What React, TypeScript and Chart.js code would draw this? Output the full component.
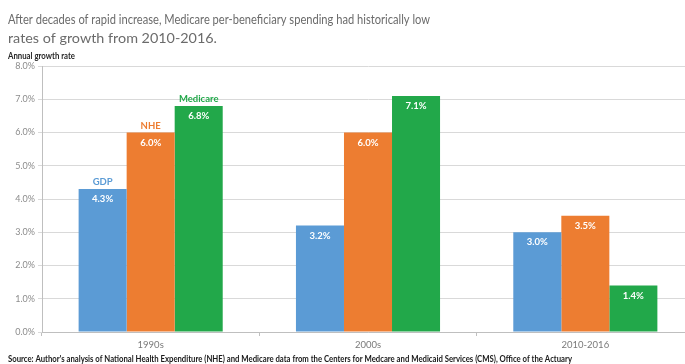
import React, { useEffect, useRef } from "react";
import { Chart, registerables } from "chart.js";

Chart.register(...registerables);

const categories = ["1990s", "2000s", "2010-2016"];
const seriesNames = ["GDP", "NHE", "Medicare"];
const gdp = [4.3, 3.2, 3.0];
const nhe = [6.0, 6.0, 3.5];
const medicare = [6.8, 7.1, 1.4];
const seriesColors = ["#5B9BD5", "#ED7D31", "#22A84A"];
const yMin = 0;
const yMax = 8;
const yStep = 1;

const titleLines = [
  "After decades of rapid increase, Medicare per-beneficiary spending had historically low",
  "rates of growth from 2010-2016.",
];
const axisTitle = "Annual growth rate";
const sourceText =
  "Source: Author's analysis of National Health Expenditure (NHE) and Medicare data from the Centers for Medcare and Medicaid Services (CMS), Office of the Actuary";

function fillFit(ctx: CanvasRenderingContext2D, text: string, x: number, y: number, w: number) {
  const m = ctx.measureText(text).width;
  ctx.save();
  ctx.translate(x, y);
  ctx.scale(w / m, 1);
  ctx.fillText(text, 0, 0);
  ctx.restore();
}

const textPlugin = {
  id: "texts",
  afterDraw(chart: any) {
    const ctx = chart.ctx as CanvasRenderingContext2D;
    ctx.save();
    ctx.textBaseline = "middle";
    ctx.textAlign = "left";
    ctx.fillStyle = "#6b6b6b";
    ctx.font = "14px Lato";
    fillFit(ctx, titleLines[0], 8, 19, 422);
    fillFit(ctx, titleLines[1], 8, 38, 209);
    ctx.fillStyle = "#262626";
    ctx.font = "bold 9px Lato";
    fillFit(ctx, axisTitle, 8, 56, 67);
    ctx.fillStyle = "#1a1a1a";
    ctx.font = "bold 8.5px Lato";
    fillFit(ctx, sourceText, 8, 359, 564);
    ctx.restore();
  },
};

const labelPlugin = {
  id: "barLabels",
  afterDatasetsDraw(chart: any) {
    const ctx = chart.ctx as CanvasRenderingContext2D;
    ctx.save();
    ctx.textAlign = "center";
    ctx.textBaseline = "middle";
    chart.data.datasets.forEach((ds: any, di: number) => {
      const meta = chart.getDatasetMeta(di);
      meta.data.forEach((bar: any, i: number) => {
        const v = ds.data[i];
        ctx.font = "bold 9.5px Lato";
        ctx.fillStyle = "#ffffff";
        ctx.fillText(v.toFixed(1) + "%", bar.x, bar.y + 10);
        if (i === 0) {
          ctx.fillStyle = seriesColors[di];
          ctx.fillText(ds.label, bar.x, bar.y - 7);
        }
      });
    });
    ctx.restore();
  },
};

export default function App() {
  const ref = useRef<HTMLCanvasElement>(null);
  useEffect(() => {
    if (!ref.current) return;
    const chart = new Chart(ref.current, {
      type: "bar",
      data: {
        labels: categories,
        datasets: [gdp, nhe, medicare].map((d, i) => ({
          label: seriesNames[i],
          data: d,
          backgroundColor: seriesColors[i],
          borderWidth: 0,
          categoryPercentage: 0.663,
          barPercentage: 1,
        })),
      },
      options: {
        animation: false,
        responsive: false,
        devicePixelRatio: 1,
        layout: { padding: { top: 66, left: 0, right: 6, bottom: 0 } },
        plugins: {
          legend: { display: false },
          tooltip: { enabled: false },
          title: { display: false },
        },
        scales: {
          x: {
            afterFit: (s: any) => {
              s.height = 32;
            },
            grid: {
              display: true,
              drawOnChartArea: false,
              drawTicks: true,
              tickLength: 4,
              color: "#bfbfbf",
              offset: true,
            },
            border: { color: "#bfbfbf" },
            ticks: { color: "#7a7a7a", font: { family: "Lato", size: 9.5 }, padding: 3 },
          },
          y: {
            min: yMin,
            max: yMax,
            afterFit: (s: any) => {
              s.width = 42;
            },
            grid: { color: "#d9d9d9", tickLength: 4, drawTicks: true },
            border: { color: "#bfbfbf" },
            ticks: {
              stepSize: yStep,
              color: "#8c8c8c",
              font: { family: "Lato", size: 9 },
              padding: 3,
              callback: (v: any) => Number(v).toFixed(1) + "%",
            },
          },
        },
      },
      plugins: [textPlugin, labelPlugin],
    });
    return () => chart.destroy();
  }, []);
  return (
    <div style={{ position: "absolute", left: 0, top: 0, width: 700, height: 364, background: "#fff" }}>
      <canvas ref={ref} width={700} height={364} />
    </div>
  );
}
